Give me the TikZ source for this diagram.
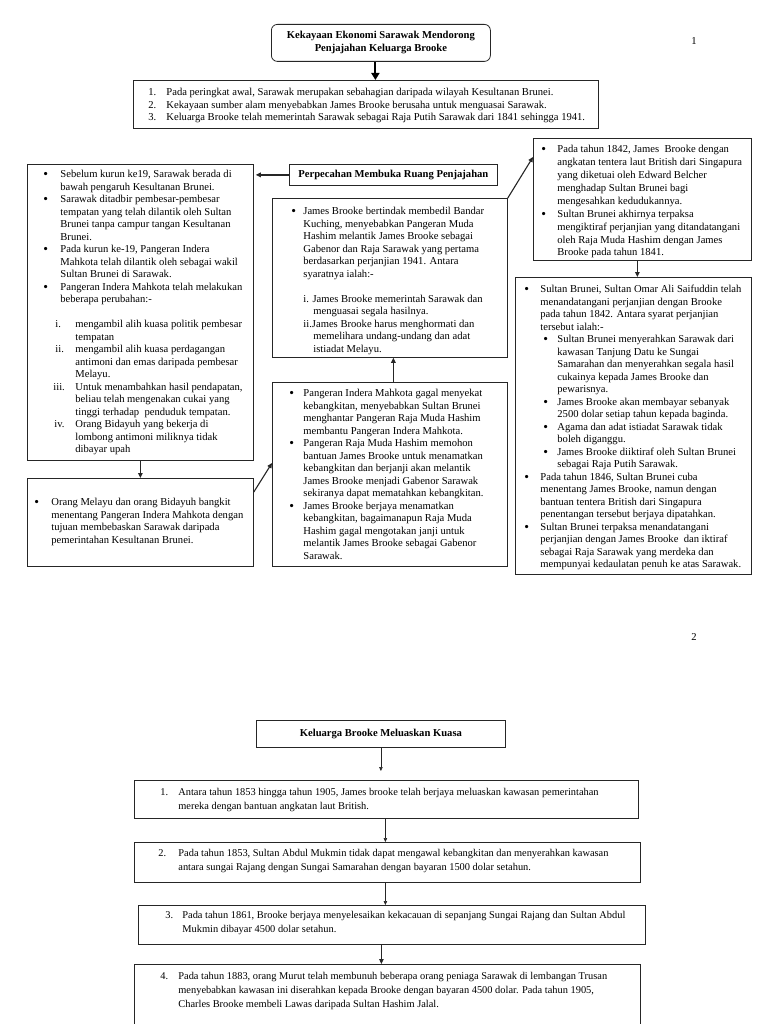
\documentclass[tikz,border=0pt]{standalone}
\usepackage{fontspec}
\setmainfont{Liberation Serif}
\usetikzlibrary{arrows.meta,calc}

\newcommand{\itm}[3]{\par\noindent\hangindent=#2\hangafter=1\relax\hbox to #2{\hskip#1\relax#3\hfil}\ignorespaces}
\newcommand{\subln}[2]{\par\noindent\hangindent=#2\hangafter=1\relax\hskip#1\relax\ignorespaces}
\newcommand{\blankln}{\par\vskip\baselineskip}
\newcommand{\bxc}[4]{\makebox[#1][l]{\vbox to #2{\hsize=1000pt\parindent=0pt\parskip=0pt\rightskip=0pt plus 1fil\kern#3\relax #4\par\vss}}}
\newcommand{\bl}{\raisebox{-1.1pt}{\fontsize{13.5}{12}\selectfont\textbullet}}

\tikzset{
  boxst/.style={draw=black!85, line width=0.8pt, inner sep=0pt, anchor=north west, font=\fontsize{10.6}{12.5}\selectfont},
  boxtwo/.style={boxst, font=\fontsize{10.4}{14}\selectfont},
  headst/.style={draw=black!85, line width=0.8pt, inner sep=0pt, anchor=north west, align=center, font=\bfseries\fontsize{10.6}{13}\selectfont},
  arr/.style={-{Triangle[length=5pt,width=4.5pt]}, line width=1.1pt, draw=black!85},
  bigarr/.style={-{Triangle[length=7pt,width=8pt]}, line width=2pt, draw=black},
  thinarr/.style={-{Triangle[length=4pt,width=3.5pt]}, line width=0.6pt, draw=black!85},
  pagenum/.style={font=\fontsize{10.6}{12}\selectfont, inner sep=0pt}
}

\begin{document}
\begin{tikzpicture}[x=1pt,y=-1pt]
\fill[white] (0,0) rectangle (768,1024);
\useasboundingbox (0,0) rectangle (768,1024);

% ---------- page 1 ----------
\node[pagenum] (pg1) at (694,41) {1};

\node[headst, rounded corners=6pt, minimum width=219pt, minimum height=37pt] (t1) at (271,24)
  {Kekayaan Ekonomi Sarawak Mendorong\\Penjajahan Keluarga Brooke};

\node[boxst] (A) at (133,80) {\bxc{465pt}{48pt}{8pt}{%
\itm{15pt}{33pt}{1.}Pada peringkat awal, Sarawak merupakan sebahagian daripada wilayah Kesultanan Brunei.
\itm{15pt}{33pt}{2.}Kekayaan sumber alam menyebabkan James Brooke berusaha untuk menguasai Sarawak.
\itm{15pt}{33pt}{3.}Keluarga Brooke telah memerintah Sarawak sebagai Raja Putih Sarawak dari 1841 sehingga 1941.}};

\node[boxst] (L1) at (27,164) {\bxc{226pt}{296pt}{6pt}{%
\itm{16pt}{33pt}{\bl}Sebelum kurun ke19, Sarawak berada di\newline bawah pengaruh Kesultanan Brunei.
\itm{16pt}{33pt}{\bl}Sarawak ditadbir pembesar-pembesar\newline tempatan yang telah dilantik oleh Sultan\newline Brunei tanpa campur tangan Kesultanan\newline Brunei.
\itm{16pt}{33pt}{\bl}Pada kurun ke-19, Pangeran Indera\newline Mahkota telah dilantik oleh sebagai wakil\newline Sultan Brunei di Sarawak.
\itm{16pt}{33pt}{\bl}Pangeran Indera Mahkota telah melakukan\newline beberapa perubahan:-
\blankln
\itm{28pt}{48pt}{i.}mengambil alih kuasa politik pembesar\newline tempatan
\itm{28pt}{48pt}{ii.}mengambil alih kuasa perdagangan\newline antimoni dan emas daripada pembesar\newline Melayu.
\itm{26pt}{48pt}{iii.}Untuk menambahkan hasil pendapatan,\newline beliau telah mengenakan cukai yang\newline tinggi terhadap\ \ penduduk tempatan.
\itm{27pt}{48pt}{iv.}Orang Bidayuh yang bekerja di\newline lombong antimoni miliknya tidak\newline dibayar upah}};

\node[boxst] (L2) at (27,478) {\bxc{226pt}{88pt}{20pt}{%
\itm{7pt}{24pt}{\bl}Orang Melayu dan orang Bidayuh bangkit\newline menentang Pangeran Indera Mahkota dengan\newline tujuan membebaskan Sarawak daripada\newline pemerintahan Kesultanan Brunei.}};

\node[headst, minimum width=208pt, minimum height=21pt] (per) at (289,164) {Perpecahan Membuka Ruang Penjajahan};

\node[boxst] (M1) at (272,198) {\bxc{235pt}{159pt}{9pt}{%
\itm{19pt}{31pt}{\bl}James Brooke bertindak membedil Bandar\newline Kuching, menyebabkan Pangeran Muda\newline Hashim melantik James Brooke sebagai\newline Gabenor dan Raja Sarawak yang pertama\newline berdasarkan perjanjian 1941. Antara\newline syaratnya ialah:-
\blankln
\subln{31pt}{41pt}i. James Brooke memerintah Sarawak dan\newline menguasai segala hasilnya.
\subln{31pt}{41pt}ii.James Brooke harus menghormati dan\newline memelihara undang-undang dan adat\newline istiadat Melayu.}};

\node[boxst] (M2) at (272,382) {\bxc{235pt}{184pt}{7pt}{%
\itm{17pt}{31pt}{\bl}Pangeran Indera Mahkota gagal menyekat\newline kebangkitan, menyebabkan Sultan Brunei\newline menghantar Pangeran Raja Muda Hashim\newline membantu Pangeran Indera Mahkota.
\itm{17pt}{31pt}{\bl}Pangeran Raja Muda Hashim memohon\newline bantuan James Brooke untuk menamatkan\newline kebangkitan dan berjanji akan melantik\newline James Brooke menjadi Gabenor Sarawak\newline sekiranya dapat mematahkan kebangkitan.
\itm{17pt}{31pt}{\bl}James Brooke berjaya menamatkan\newline kebangkitan, bagaimanapun Raja Muda\newline Hashim gagal mengotakan janji untuk\newline melantik James Brooke sebagai Gabenor\newline Sarawak.}};

\node[boxst, font=\fontsize{10.6}{12.9}\selectfont] (R1) at (533,138) {\bxc{218pt}{122pt}{7pt}{%
\itm{8pt}{24pt}{\bl}Pada tahun 1842, James\ \ Brooke dengan\newline angkatan tentera laut British dari Singapura\newline yang diketuai oleh Edward Belcher\newline menghadap Sultan Brunei bagi\newline mengesahkan kedudukannya.
\itm{8pt}{24pt}{\bl}Sultan Brunei akhirnya terpaksa\newline mengiktiraf perjanjian yang ditandatangani\newline oleh Raja Muda Hashim dengan James\newline Brooke pada tahun 1841.}};

\node[boxst] (R2) at (515,277) {\bxc{236pt}{297pt}{8pt}{%
\itm{9pt}{25pt}{\bl}Sultan Brunei, Sultan Omar Ali Saifuddin telah\newline menandatangani perjanjian dengan Brooke\newline pada tahun 1842. Antara syarat perjanjian\newline tersebut ialah:-
\itm{28pt}{42pt}{\bl}Sultan Brunei menyerahkan Sarawak dari\newline kawasan Tanjung Datu ke Sungai\newline Samarahan dan menyerahkan segala hasil\newline cukainya kepada James Brooke dan\newline pewarisnya.
\itm{28pt}{42pt}{\bl}James Brooke akan membayar sebanyak\newline 2500 dolar setiap tahun kepada baginda.
\itm{28pt}{42pt}{\bl}Agama dan adat istiadat Sarawak tidak\newline boleh diganggu.
\itm{28pt}{42pt}{\bl}James Brooke diiktiraf oleh Sultan Brunei\newline sebagai Raja Putih Sarawak.
\itm{9pt}{25pt}{\bl}Pada tahun 1846, Sultan Brunei cuba\newline menentang James Brooke, namun dengan\newline bantuan tentera British dari Singapura\newline penentangan tersebut berjaya dipatahkan.
\itm{9pt}{25pt}{\bl}Sultan Brunei terpaksa menandatangani\newline perjanjian dengan James Brooke\ \ dan iktiraf\newline sebagai Raja Sarawak yang merdeka dan\newline mempunyai kedaulatan penuh ke atas Sarawak.}};

% connectors page 1
\draw[bigarr] ([xshift=-5.5pt]t1.south) -- ([xshift=-5.5pt]t1.south |- A.north);
\draw[arr, line width=1.4pt] (per.west) -- ([xshift=2pt]per.west -| L1.east);
\draw[arr] (L1.south) -- (L1.south |- L2.north);
\draw[arr] ($(L2.north east)+(0,14)$) -- ($(M2.north west)+(0,81)$);
\draw[arr, line width=1.4pt] ([xshift=3.5pt]M2.north) -- ([xshift=3.5pt]M1.south);
\draw[arr] (M1.north east) -- ($(R1.north west)+(0,19)$);
\draw[arr] ([xshift=-5pt]R1.south) -- ([xshift=-5pt]R1.south |- R2.north);

% ---------- page 2 ----------
\node[pagenum] (pg2) at (694,637) {2};

\node[headst, minimum width=249pt, minimum height=27pt] (t2) at (256,720) {Keluarga Brooke Meluaskan Kuasa};

\node[boxtwo] (B1) at (134,780) {\bxc{504pt}{38pt}{8pt}{%
\itm{26pt}{44pt}{1.}Antara tahun 1853 hingga tahun 1905, James brooke telah berjaya meluaskan kawasan pemerintahan\newline mereka dengan bantuan angkatan laut British.}};

\node[boxtwo] (B2) at (134,842) {\bxc{506pt}{40pt}{7pt}{%
\itm{24pt}{44pt}{2.}Pada tahun 1853, Sultan Abdul Mukmin tidak dapat mengawal kebangkitan dan menyerahkan kawasan\newline antara sungai Rajang dengan Sungai Samarahan dengan bayaran 1500 dolar setahun.}};

\node[boxtwo] (B3) at (138,905) {\bxc{507pt}{39pt}{6pt}{%
\itm{27pt}{44pt}{3.}Pada tahun 1861, Brooke berjaya menyelesaikan kekacauan di sepanjang Sungai Rajang dan Sultan Abdul\newline Mukmin dibayar 4500 dolar setahun.}};

\node[boxtwo] (B4) at (134,964) {\bxc{506pt}{66pt}{8pt}{%
\itm{26pt}{44pt}{4.}Pada tahun 1883, orang Murut telah membunuh beberapa orang peniaga Sarawak di lembangan Trusan\newline menyebabkan kawasan ini diserahkan kepada Brooke dengan bayaran 4500 dolar. Pada tahun 1905,\newline Charles Brooke membeli Lawas daripada Sultan Hashim Jalal.}};

% connectors page 2
\draw[thinarr, shorten >=9pt] (t2.south) -- (t2.south |- B1.north);
\draw[thinarr] ([xshift=-1pt]B1.south) -- ([xshift=-1pt]B1.south |- B2.north);
\draw[thinarr] ([xshift=-2pt]B2.south) -- ([xshift=-2pt]B2.south |- B3.north);
\draw[arr, line width=0.8pt] ([xshift=-10.5pt]B3.south) -- ([xshift=-10.5pt]B3.south |- B4.north);
\end{tikzpicture}
\end{document}
